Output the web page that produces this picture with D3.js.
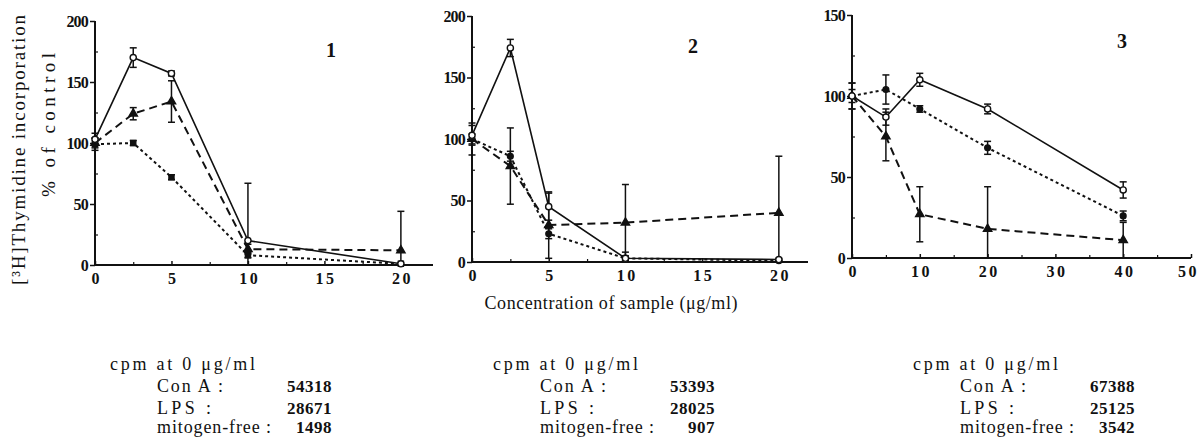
<!DOCTYPE html>
<html><head><meta charset="utf-8">
<script src="https://cdn.jsdelivr.net/npm/d3@7"></script>
<style>
body{margin:0;background:#fff;}
svg text{font-family:"Liberation Serif","Times New Roman","DejaVu Serif",serif !important;fill:#111;}
</style></head>
<body><svg id="c" width="1202" height="439"></svg>
<script>
// ---- data ----
const conc1 = [0, 2.5, 5, 10, 20];
const conA1 = [103, 170, 157, 20, 1];
const conA1Err = [5, 8, 2, 47, 0];
const lps1 = [100, 124, 134, 13, 12];
const lps1Err = [4, 5, 17, 4, 32];
const free1 = [99, 100, 72, 8, 1];
const free1Err = [5, 2, 2, 2, 0];

const conc2 = [0, 2.5, 5, 10, 20];
const conA2 = [103, 174, 45, 3, 2];
const conA2Err = [8, 7, 11, 5, 1];
const lps2 = [100, 78, 30, 32, 40];
const lps2Err = [13, 31, 27, 31, 46];
const free2 = [100, 86, 23, 3, 1];
const free2Err = [4, 4, 4, 2, 1];

const conc3 = [0, 5, 10, 20, 40];
const conA3 = [100, 87, 110, 92, 42];
const conA3Err = [8, 5, 4, 3, 5];
const lps3 = [100, 75, 27, 18, 11];
const lps3Err = [8, 15, 17, 26, 11];
const free3 = [100, 104, 92, 68, 26];
const free3Err = [4, 9, 2, 4, 3];

const xTicks1 = [0, 5, 10, 15, 20];
const xTicks2 = [0, 5, 10, 15, 20];
const xTicks3 = [0, 10, 20, 30, 40, 50];
const yTicks12 = [0, 50, 100, 150, 200];
const yTicks3 = [0, 50, 100, 150];
const panelNames = ["1", "2", "3"];
const cpmConA = ["54318", "53393", "67388"];
const cpmLPS = ["28671", "28025", "25125"];
const cpmFree = ["1498", "907", "3542"];
const yTitle1 = "[³H]Thymidine incorporation";
const yTitle2 = "% of control";
const xTitle = "Concentration of sample (μg/ml)";

// ---- layout ----
const svg = d3.select("#c");
const panels = [
  {conc: conc1, conA: conA1, conAErr: conA1Err, lps: lps1, lpsErr: lps1Err, free: free1, freeErr: free1Err,
   xd: [0, 22.1], xr: [95, 433], yd: [0, 200], yr: [265, 21], xt: xTicks1, xm: 2.5, yt: yTicks12, ym: 25,
   freeSym: d3.symbolSquare, label: [331, 50], txt: 110},
  {conc: conc2, conA: conA2, conAErr: conA2Err, lps: lps2, lpsErr: lps2Err, free: free2, freeErr: free2Err,
   xd: [0, 21.9], xr: [472, 808], yd: [0, 200], yr: [262, 16], xt: xTicks2, xm: 2.5, yt: yTicks12, ym: 25,
   freeSym: d3.symbolCircle, label: [693, 46], txt: 493},
  {conc: conc3, conA: conA3, conAErr: conA3Err, lps: lps3, lpsErr: lps3Err, free: free3, freeErr: free3Err,
   xd: [0, 50], xr: [852, 1191], yd: [0, 150], yr: [258, 15], xt: xTicks3, xm: 5, yt: yTicks3, ym: 25,
   freeSym: d3.symbolCircle, label: [1122, 41], txt: 913}
];

function font(sel, size, weight, ls) {
  sel.style("font-size", size + "px").style("font-weight", weight || "normal");
  if (ls !== undefined) sel.style("letter-spacing", ls + "px");
  return sel;
}

panels.forEach((p, i) => {
  const x = d3.scaleLinear().domain(p.xd).range(p.xr);
  const y = d3.scaleLinear().domain(p.yd).range(p.yr);
  const g = svg.append("g");

  // minor ticks
  const xMinor = d3.range(p.xm, p.xd[1], p.xm).filter(v => !p.xt.includes(v));
  g.append("g").attr("transform", `translate(0,${p.yr[0]})`)
    .call(d3.axisBottom(x).tickValues(xMinor).tickSize(-3).tickFormat(""))
    .call(s => s.select(".domain").remove())
    .selectAll("line").attr("stroke", "#111").attr("stroke-width", 1.2);
  const yMinor = d3.range(p.ym, p.yd[1], p.ym).filter(v => !p.yt.includes(v));
  g.append("g").attr("transform", `translate(${p.xr[0]},0)`)
    .call(d3.axisLeft(y).tickValues(yMinor).tickSize(-3).tickFormat(""))
    .call(s => s.select(".domain").remove())
    .selectAll("line").attr("stroke", "#111").attr("stroke-width", 1.2);

  // major axes
  const xa = g.append("g").attr("transform", `translate(0,${p.yr[0]})`)
    .call(d3.axisBottom(x).tickValues(p.xt).tickSize(-4).tickPadding(8).tickSizeOuter(0));
  xa.select(".domain").attr("stroke", "#111").attr("stroke-width", 2).attr("d", `M${p.xr[0]},0H${p.xr[1]}`);
  xa.selectAll("line").attr("stroke", "#111").attr("stroke-width", 1.5);
  font(xa.selectAll("text"), 16, "bold", 2.5)
    .attr("dx", d => (x(d) > 1180 ? -3 : 1.2));

  const ya = g.append("g").attr("transform", `translate(${p.xr[0]},0)`)
    .call(d3.axisLeft(y).tickValues(p.yt).tickSize(5).tickPadding(2).tickSizeOuter(0));
  ya.select(".domain").attr("stroke", "#111").attr("stroke-width", 2).attr("d", `M0,${p.yr[0]}V${p.yr[1]}`);
  ya.selectAll("line").attr("stroke", "#111").attr("stroke-width", 1.5);
  font(ya.selectAll("text"), 16, "bold", -0.8);

  // series
  const series = [
    {v: p.free, e: p.freeErr, dash: "3,3", sym: p.freeSym, fill: "#111", size: 26},
    {v: p.lps, e: p.lpsErr, dash: "8,5", sym: d3.symbolTriangle, fill: "#111", size: 30},
    {v: p.conA, e: p.conAErr, dash: null, sym: d3.symbolCircle, fill: "#fff", size: 30}
  ];
  const yc = v => y(Math.max(p.yd[0], Math.min(p.yd[1], v)));
  series.forEach(s => {
    p.conc.forEach((c, k) => {
      if (!s.e[k]) return;
      const cx = x(c), y1 = yc(s.v[k] - s.e[k]), y2 = yc(s.v[k] + s.e[k]);
      g.append("line").attr("x1", cx).attr("x2", cx).attr("y1", y1).attr("y2", y2)
        .attr("stroke", "#111").attr("stroke-width", 1.5);
      [y1, y2].forEach(yy => g.append("line").attr("x1", cx - 3.5).attr("x2", cx + 3.5)
        .attr("y1", yy).attr("y2", yy).attr("stroke", "#111").attr("stroke-width", 1.5));
    });
    const line = d3.line().x((d, k) => x(p.conc[k])).y(d => y(d));
    g.append("path").datum(s.v).attr("d", line).attr("fill", "none")
      .attr("stroke", "#111").attr("stroke-width", s.dash ? 2 : 1.6)
      .attr("stroke-dasharray", s.dash);
    g.selectAll(null).data(s.v).enter().append("path")
      .attr("d", d3.symbol().type(s.sym).size(s.size))
      .attr("transform", (d, k) => `translate(${x(p.conc[k])},${y(d)})`)
      .attr("fill", s.fill).attr("stroke", "#111").attr("stroke-width", 1.4);
  });

  // panel number
  font(svg.append("text").attr("x", p.label[0]).attr("y", p.label[1]).attr("text-anchor", "middle")
    .attr("dominant-baseline", "central"), 20, "bold").text(panelNames[i]);

  // cpm text block
  const t0 = p.txt;
  font(svg.append("text").attr("x", t0).attr("y", 370), 18)
    .attr("textLength", 145).attr("lengthAdjust", "spacing").text("cpm at 0 μg/ml");
  const rows = [["Con A :", cpmConA[i], 392, 66], ["LPS :", cpmLPS[i], 414, 54], ["mitogen-free :", cpmFree[i], 433, 114]];
  rows.forEach(r => {
    font(svg.append("text").attr("x", t0 + 47).attr("y", r[2]), 18)
      .attr("textLength", r[3]).attr("lengthAdjust", "spacing").text(r[0]);
    font(svg.append("text").attr("x", t0 + 222).attr("y", r[2]).attr("text-anchor", "end"), 17, "bold", 0.5)
      .text(r[1]);
  });
});

// axis titles
font(svg.append("text").attr("transform", "translate(18,150) rotate(-90)").attr("text-anchor", "middle")
  .attr("dominant-baseline", "central"), 19)
  .attr("textLength", 270).attr("lengthAdjust", "spacing").text(yTitle1);
font(svg.append("text").attr("transform", "translate(48,125) rotate(-90)").attr("text-anchor", "middle")
  .attr("dominant-baseline", "central"), 19)
  .attr("textLength", 144).attr("lengthAdjust", "spacing").text(yTitle2);
font(svg.append("text").attr("x", 611).attr("y", 303).attr("text-anchor", "middle")
  .attr("dominant-baseline", "central"), 18)
  .attr("textLength", 253).attr("lengthAdjust", "spacing").text(xTitle);
</script></body></html>
